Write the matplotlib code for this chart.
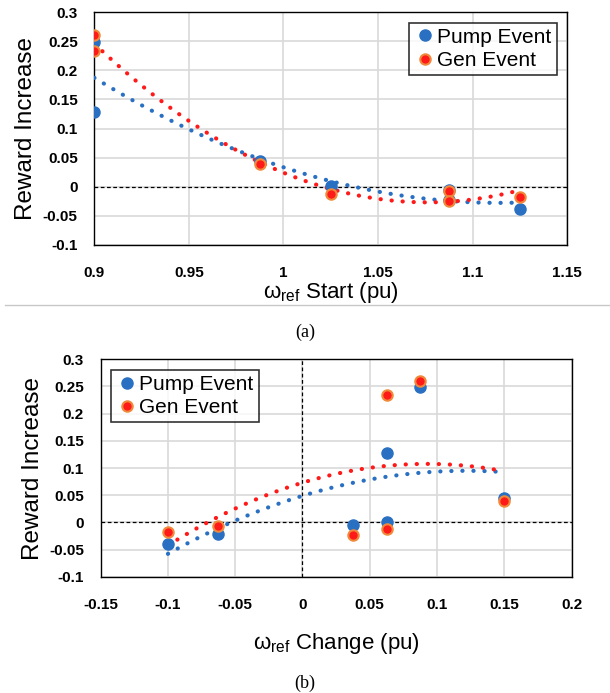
import numpy as np
import matplotlib
matplotlib.use("Agg")
import matplotlib.pyplot as plt

# reward increase per event
start_pump = [0.9, 0.9, 0.9875, 1.025, 1.0875, 1.0875, 1.125]
change_pump = [0.0875, 0.0625, 0.15, 0.0625, 0.0375, -0.0625, -0.1]
reward_pump = [0.249, 0.128, 0.044, 0.001, -0.005, -0.022, -0.039]

start_gen = [0.9, 0.9, 0.9875, 1.025, 1.0875, 1.0875, 1.125]
change_gen = [0.0875, 0.0625, 0.15, 0.0625, -0.0625, 0.0375, -0.1]
reward_gen = [0.260, 0.234, 0.039, -0.012, -0.007, -0.024, -0.017]

blue = "#2A70C2"
red = "#FF1A1A"
edge_red = "#F08A3A"
tick_font = ["Liberation Sans Narrow", "Liberation Sans", "DejaVu Sans"]
label_font = ["Liberation Sans Narrow", "Liberation Sans", "DejaVu Sans"]

fig = plt.figure(figsize=(6.1, 6.93), dpi=100)


def panel(ax, xp, yp, xg, yg, xlim, xticks, xlabel, legend_pos, xpad):
    ax.set_xlim(*xlim)
    ax.set_ylim(-0.1, 0.3)
    ax.set_xticks(xticks)
    ax.set_yticks(np.arange(-0.1, 0.31, 0.05))
    ax.grid(True, color="#D9D9D9", linewidth=1.2)
    ax.set_axisbelow(True)
    ax.tick_params(axis="y", length=0, pad=12)
    ax.tick_params(axis="x", length=0, pad=15)
    ax.set_xticklabels([f"{t:g}" for t in xticks], family=tick_font, weight="bold", fontsize=11)
    ax.set_yticklabels([f"{t:g}" if abs(t) > 1e-9 else "0" for t in ax.get_yticks()],
                       family=tick_font, weight="bold", fontsize=11)
    for s in ax.spines.values():
        s.set_color("black")
        s.set_linewidth(1.0)
    ax.axhline(0, color="black", linestyle=(0, (3, 2)), linewidth=0.9, zorder=2)

    # 2nd order trend lines
    for x, y, c in [(xp, yp, blue), (xg, yg, red)]:
        coef = np.polyfit(x, y, 2)
        xs = np.linspace(min(x), max(x), 200)
        ax.plot(xs, np.polyval(coef, xs), color=c, linewidth=3.0,
                linestyle=(0, (0.05, 2.6)), dash_capstyle="round", zorder=3)

    ax.plot(xp, yp, "o", color=blue, markersize=8, markeredgecolor=blue,
            label="Pump Event", zorder=4)
    ax.plot(xg, yg, "o", color=red, markersize=7.5, markeredgecolor=edge_red,
            markeredgewidth=1.5, label="Gen Event", zorder=5)

    leg = ax.legend(loc=legend_pos, frameon=True, fancybox=False, handletextpad=0.1,
                    handlelength=1.0, borderpad=0.25, labelspacing=0.2,
                    prop={"family": label_font, "size": 15})
    leg.get_frame().set_edgecolor("black")
    leg.get_frame().set_linewidth(1.2)
    ax.set_ylabel("Reward Increase", family=label_font, fontsize=17.5, labelpad=4)
    ax.set_xlabel(xlabel, family=label_font, fontsize=16, labelpad=xpad)


ax1 = fig.add_axes([0.1546, 0.6465, 0.775, 0.336])
panel(ax1, start_pump, reward_pump, start_gen, reward_gen, (0.9, 1.15),
      [0.9, 0.95, 1.0, 1.05, 1.1, 1.15], "ω$_{\\mathregular{ref}}$ Start (pu)", "upper right", 0)

ax2 = fig.add_axes([0.165, 0.1678, 0.772, 0.3137])
panel(ax2, change_pump, reward_pump, change_gen, reward_gen, (-0.15, 0.2),
      [-0.15, -0.1, -0.05, 0, 0.05, 0.1, 0.15, 0.2], "ω$_{\\mathregular{ref}}$ Change (pu)",
      "upper left", 14)
ax2.axvline(0, color="black", linestyle=(0, (3, 2)), linewidth=0.9, zorder=2)

# separator and captions
fig.add_artist(plt.Line2D([0.008, 1.0], [1 - 305 / 693, 1 - 305 / 693], color="#C8C8C8", linewidth=1))
fig.text(0.5, 1 - 332 / 693, "(a)", ha="center", va="center", family="Liberation Serif", fontsize=13)
fig.text(0.5, 1 - 683 / 693, "(b)", ha="center", va="center", family="Liberation Serif", fontsize=13)

fig.savefig("out.png", dpi=100)
